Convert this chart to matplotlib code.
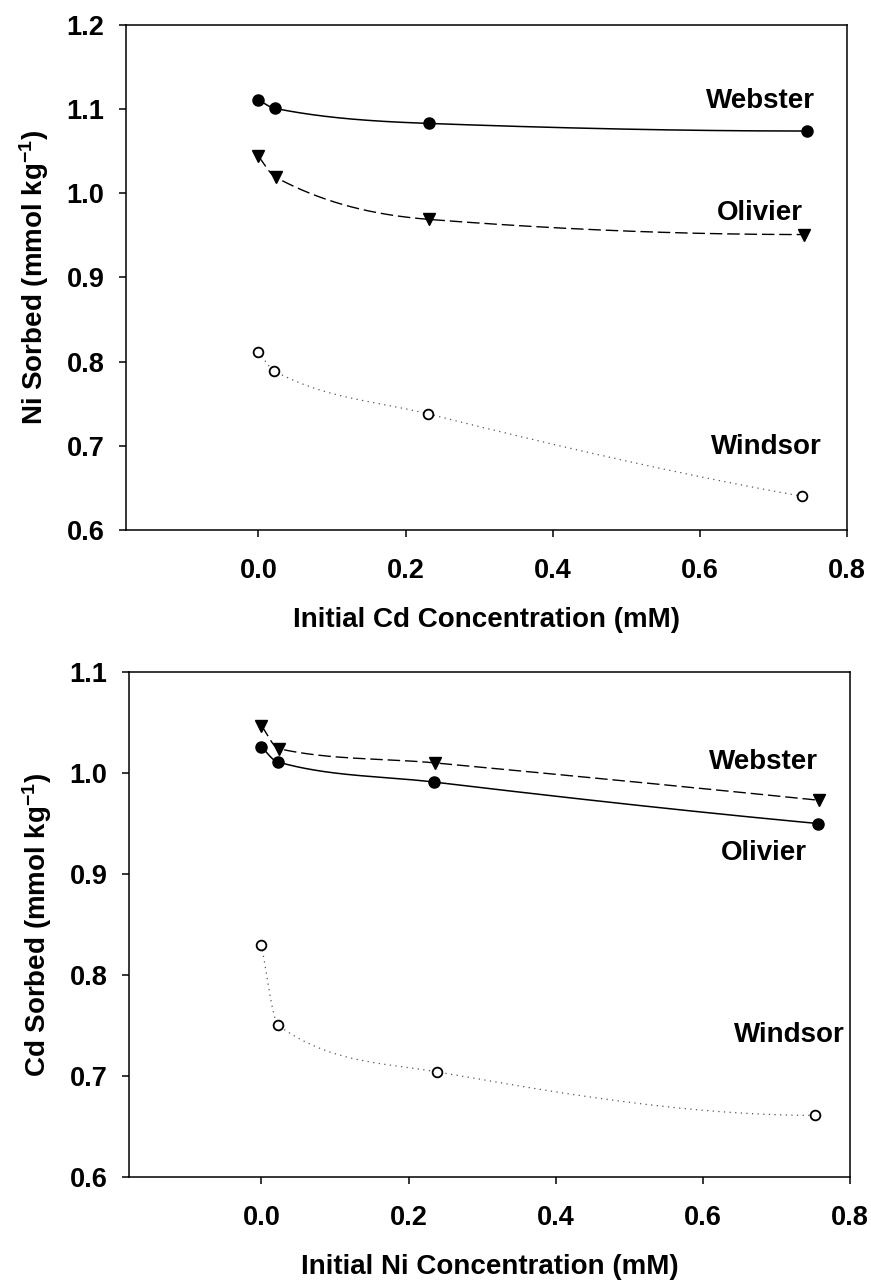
import matplotlib
matplotlib.use("Agg")
import matplotlib.pyplot as plt
import numpy as np

plt.rcParams["font.family"] = ["Liberation Sans", "DejaVu Sans"]
plt.rcParams["font.weight"] = "bold"
plt.rcParams["mathtext.fontset"] = "custom"
plt.rcParams["mathtext.rm"] = "Liberation Sans:bold"
plt.rcParams["mathtext.it"] = "Liberation Sans:bold"
plt.rcParams["mathtext.bf"] = "Liberation Sans:bold"
plt.rcParams["mathtext.default"] = "rm"

# --- top panel: Ni sorbed vs initial Cd ---
ni_webster_x = [0.0, 0.022, 0.232, 0.745]
ni_webster_y = [1.111, 1.101, 1.083, 1.074]
ni_olivier_x = [0.0, 0.0235, 0.232, 0.741]
ni_olivier_y = [1.044, 1.019, 0.969, 0.951]
ni_windsor_x = [0.0, 0.0215, 0.230, 0.739]
ni_windsor_y = [0.812, 0.789, 0.738, 0.640]

# --- bottom panel: Cd sorbed vs initial Ni ---
cd_dots_x = [0.0, 0.022, 0.235, 0.756]
cd_dots_y = [1.026, 1.011, 0.991, 0.950]
cd_tri_x = [0.0, 0.024, 0.236, 0.758]
cd_tri_y = [1.047, 1.024, 1.010, 0.973]
cd_windsor_x = [0.0, 0.023, 0.239, 0.753]
cd_windsor_y = [0.830, 0.750, 0.704, 0.661]

NI_LABELS = [("Webster", 0.682, 1.110), ("Olivier", 0.682, 0.977), ("Windsor", 0.690, 0.699)]
CD_LABELS = [("Webster", 0.683, 1.011), ("Olivier", 0.683, 0.921), ("Windsor", 0.718, 0.741)]


def pchip(x, y, xs):
    x = np.asarray(x, dtype=float)
    y = np.asarray(y, dtype=float)
    h = np.diff(x)
    d = np.diff(y) / h
    n = len(x)
    m = np.zeros(n)
    for k in range(1, n - 1):
        if d[k - 1] * d[k] > 0:
            w1 = 2 * h[k] + h[k - 1]
            w2 = h[k] + 2 * h[k - 1]
            m[k] = (w1 + w2) / (w1 / d[k - 1] + w2 / d[k])
    m[0] = ((2 * h[0] + h[1]) * d[0] - h[0] * d[1]) / (h[0] + h[1])
    if np.sign(m[0]) != np.sign(d[0]):
        m[0] = 0.0
    m[-1] = ((2 * h[-1] + h[-2]) * d[-1] - h[-1] * d[-2]) / (h[-1] + h[-2])
    if np.sign(m[-1]) != np.sign(d[-1]):
        m[-1] = 0.0
    idx = np.clip(np.searchsorted(x, xs) - 1, 0, n - 2)
    t = (xs - x[idx]) / h[idx]
    h00 = 2 * t**3 - 3 * t**2 + 1
    h10 = t**3 - 2 * t**2 + t
    h01 = -2 * t**3 + 3 * t**2
    h11 = t**3 - t**2
    return h00 * y[idx] + h10 * h[idx] * m[idx] + h01 * y[idx + 1] + h11 * h[idx] * m[idx + 1]


def draw_series(ax, x, y, line_kw, marker_kw):
    xs = np.linspace(x[0], x[-1], 400)
    ax.plot(xs, pchip(x, y, xs), **line_kw)
    ax.plot(x, y, linestyle="none", **marker_kw)


SOLID = dict(color="black", lw=1.1, linestyle="-")
DASHED = dict(color="black", lw=1.0, linestyle=(0, (9, 3.5)))
DOTTED = dict(color="#555555", lw=0.9, linestyle=(0, (1, 3.5)))
DOT = dict(marker="o", ms=8, color="black")
TRI = dict(marker="v", ms=8.5, color="black")
OPEN = dict(marker="o", ms=7, mfc="white", mec="black", mew=1.3)


def style_axes(ax, ylim, yticks, xlabel, ylabel):
    ax.set_xlim(-0.18, 0.8)
    ax.set_ylim(*ylim)
    ax.set_xticks([0.0, 0.2, 0.4, 0.6, 0.8])
    ax.set_xticklabels(["0.0", "0.2", "0.4", "0.6", "0.8"])
    ax.set_yticks(yticks)
    ax.set_yticklabels([f"{v:.1f}" for v in yticks])
    ax.tick_params(direction="out", length=5, width=1.1, labelsize=19.5,
                   top=False, right=False)
    ax.tick_params(axis="x", pad=15)
    ax.tick_params(axis="y", pad=10.5)
    for s in ax.spines.values():
        s.set_linewidth(1.1)
    ax.set_xlabel(xlabel, fontsize=20, fontweight="bold", labelpad=17)
    ax.set_ylabel(ylabel, fontsize=20, fontweight="bold", labelpad=11)


fig = plt.figure(figsize=(8.71, 12.81), dpi=100)
ax1 = fig.add_axes([0.1447, 0.5863, 0.8278, 0.3942])
ax2 = fig.add_axes([0.1481, 0.0812, 0.8278, 0.3942])

draw_series(ax1, ni_webster_x, ni_webster_y, SOLID, DOT)
draw_series(ax1, ni_olivier_x, ni_olivier_y, DASHED, TRI)
draw_series(ax1, ni_windsor_x, ni_windsor_y, DOTTED, OPEN)
for name, tx, ty in NI_LABELS:
    ax1.text(tx, ty, name, ha="center", va="center", fontsize=20, fontweight="bold")
style_axes(ax1, (0.6, 1.2), [0.6, 0.7, 0.8, 0.9, 1.0, 1.1, 1.2],
           "Initial Cd Concentration (mM)", r"Ni Sorbed (mmol kg$^{-1}$)")

draw_series(ax2, cd_dots_x, cd_dots_y, SOLID, DOT)
draw_series(ax2, cd_tri_x, cd_tri_y, DASHED, TRI)
draw_series(ax2, cd_windsor_x, cd_windsor_y, DOTTED, OPEN)
for name, tx, ty in CD_LABELS:
    ax2.text(tx, ty, name, ha="center", va="center", fontsize=20, fontweight="bold")
style_axes(ax2, (0.6, 1.1), [0.6, 0.7, 0.8, 0.9, 1.0, 1.1],
           "Initial Ni Concentration (mM)", r"Cd Sorbed (mmol kg$^{-1}$)")

fig.savefig("out.png", dpi=100)
